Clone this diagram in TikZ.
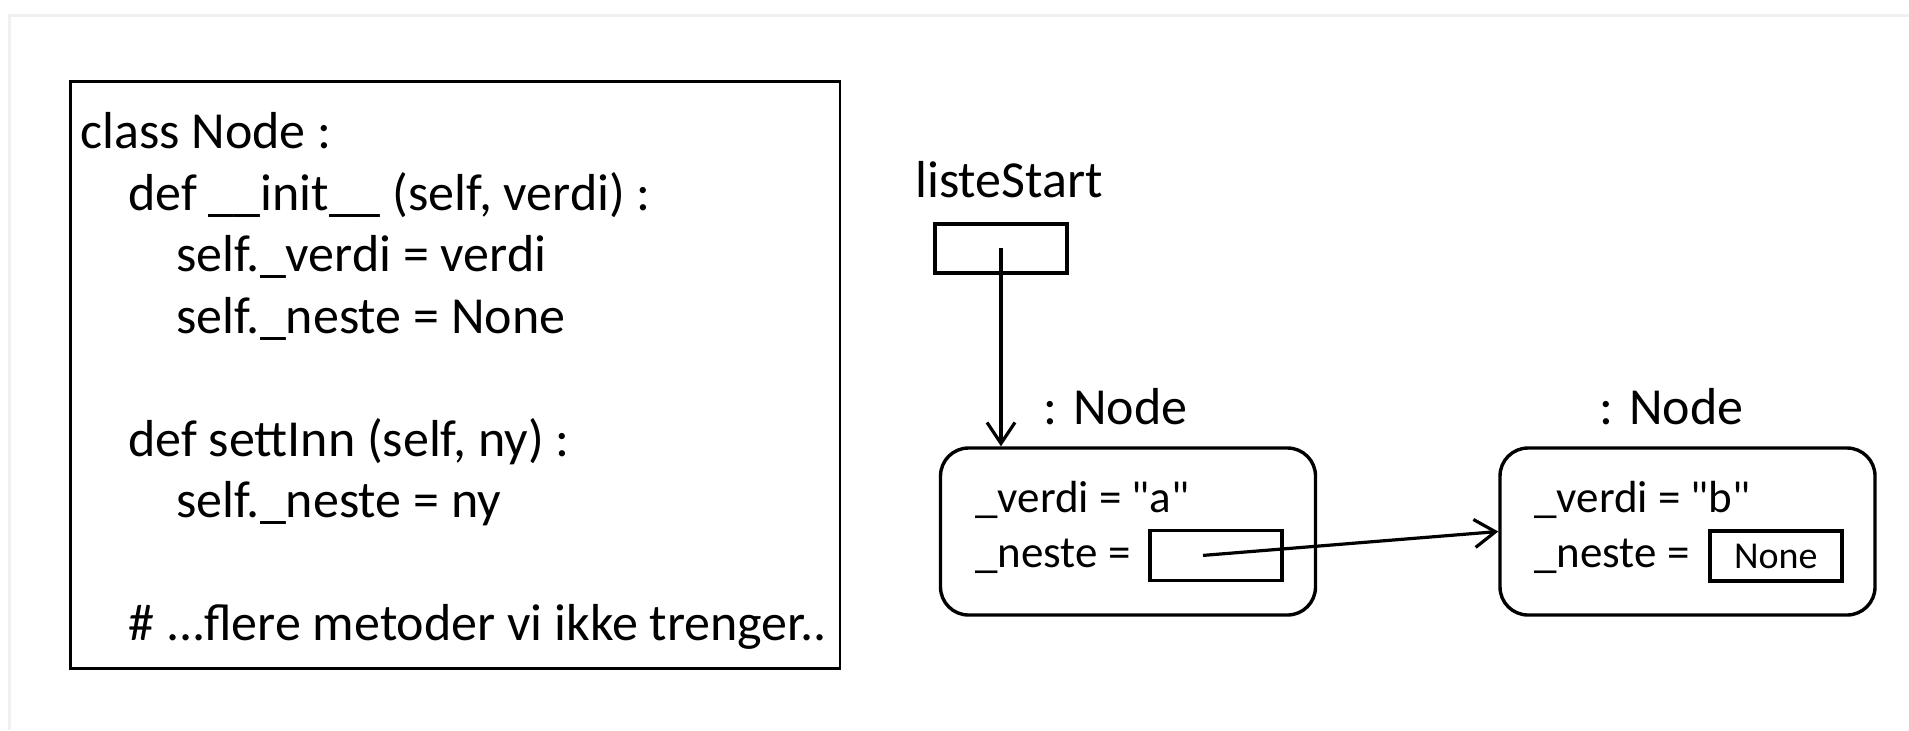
\documentclass[tikz,border=0pt]{standalone}
\usepackage{fontspec}
\setmainfont{Carlito}
\usepackage{tikz}
\usetikzlibrary{arrows.meta}

\newcommand{\bigtxt}{\fontsize{26pt}{31pt}\selectfont}
\newcommand{\fieldtxt}{\fontsize{22.5pt}{27pt}\selectfont}
\newcommand{\nonetxt}{\fontsize{19pt}{23pt}\selectfont}

\begin{document}
\begin{tikzpicture}[x=0.5pt,y=-0.5pt,
    txt/.style={anchor=base west,inner sep=0pt,font=\bigtxt},
    field/.style={anchor=base west,inner sep=0pt,font=\fieldtxt},
    ref/.style={draw,line width=1.7pt,inner sep=0pt,minimum width=66pt,minimum height=25pt},
    obj/.style={draw,line width=1.7pt,rounded corners=14pt,inner sep=0pt,
                minimum width=187.5pt,minimum height=83.5pt},
    pointer/.style={line width=1.6pt,-{Straight Barb[length=10.5pt,width=14pt]}}]
	\useasboundingbox (0,0) rectangle (1909,730);
	% faint page frame
	\draw[black!6,line width=1.5pt] (1909,15) -- (9,15) -- (9,730);

	% the class
	\node[draw,line width=1.2pt,inner sep=0pt,minimum width=384.7pt,minimum height=293.4pt] (klasse) at (455.3,375) {};
	\node[txt] (l1) at (80,148) {class Node :};
	\node[txt] (l2) at (128,210) {def \_\_init\_\_ (self, verdi) :};
	\node[txt] (l3) at (176,271) {self.\_verdi = verdi};
	\node[txt] (l4) at (176,333) {self.\_neste = None};
	\node[txt] (l5) at (128,456) {def settInn (self, ny) :};
	\node[txt] (l6) at (176,517) {self.\_neste = ny};
	\node[txt] (l7) at (128,640) {\# ...flere metoder vi ikke trenger..};

	% the list
	\node[txt] (lsnavn) at (915,197) {listeStart};
	\node[ref,minimum height=24.4pt] (ls) at (1001,248.4) {};

	\node[txt] (tna) at (1043,424) {: Node};
	\node[obj] (na) at (1128,531.5) {};
	\node[field] (va) at (975,512) {\_verdi = \textquotedbl a\textquotedbl};
	\node[field] (na2) at (975,567) {\_neste =};
	\node[ref] (pa) at (1216,555.4) {};

	\node[txt] (tnb) at (1599,424) {: Node};
	\node[obj] (nb) at (1687.5,531.5) {};
	\node[field] (vb) at (1534,512) {\_verdi = \textquotedbl b\textquotedbl};
	\node[field] (nb2) at (1534,567) {\_neste =};
	\node[ref,font=\nonetxt] (pb) at (1775.8,556) {None};

	\draw[pointer] (ls.center) -- (ls.center |- na.north);
	\draw[pointer] ([xshift=-6.5pt]pa.center) -- (nb.west);
\end{tikzpicture}
\end{document}
